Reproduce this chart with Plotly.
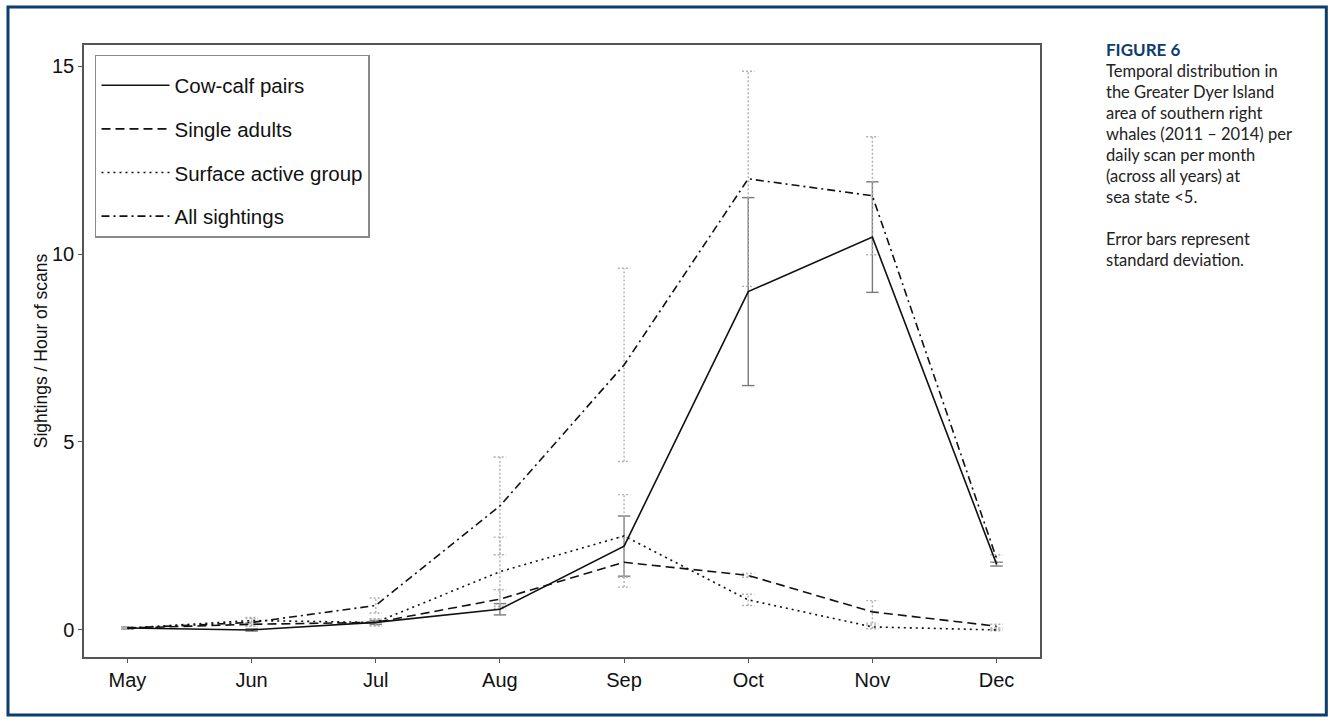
import plotly.graph_objects as go

months = ["May", "Jun", "Jul", "Aug", "Sep", "Oct", "Nov", "Dec"]
cow_calf = [0.05, 0.0, 0.2, 0.55, 2.23, 9.0, 10.45, 1.75]
cow_calf_sd = [0.03, 0.03, 0.05, 0.15, 0.8, 2.5, 1.47, 0.05]
single_adults = [0.05, 0.15, 0.2, 0.82, 1.8, 1.45, 0.48, 0.1]
single_adults_sd = [0.03, 0.05, 0.08, 0.25, 0.66, 0.05, 0.3, 0.05]
surface_active = [0.05, 0.25, 0.2, 1.55, 2.5, 0.8, 0.08, 0.0]
surface_active_sd = [0.03, 0.08, 0.1, 0.92, 1.1, 0.15, 0.05, 0.02]
all_sightings = [0.05, 0.2, 0.65, 3.3, 7.05, 12.0, 11.55, 1.9]
all_sightings_sd = [0.03, 0.1, 0.2, 1.3, 2.57, 2.86, 1.57, 0.1]

series = [
    ("Cow-calf pairs", cow_calf, cow_calf_sd, "solid", "solid", "#7a7a7a"),
    ("Single adults", single_adults, single_adults_sd, "9px,5px", "2px,2px", "#b0b0b0"),
    ("Surface active group", surface_active, surface_active_sd, "2px,4px", "2px,2px", "#b0b0b0"),
    ("All sightings", all_sightings, all_sightings_sd, "8px,4px,2px,4px", "2px,2px", "#b0b0b0"),
]

xs = list(range(len(months)))
cap = 0.05
fig = go.Figure()

# error bars (drawn first, below lines)
for name, vals, sds, dash, edash, ecol in series:
    ex, ey = [], []
    for x, v, s in zip(xs, vals, sds):
        lo, hi = v - s, v + s
        ex += [x, x, None, x - cap, x + cap, None, x - cap, x + cap, None]
        ey += [lo, hi, None, lo, lo, None, hi, hi, None]
    fig.add_trace(go.Scatter(x=ex, y=ey, mode="lines", showlegend=False,
                             hoverinfo="skip",
                             line=dict(color=ecol, width=1.4, dash=edash)))

for i, (name, vals, sds, dash, edash, ecol) in enumerate(series):
    fig.add_trace(go.Scatter(x=xs, y=vals, mode="lines", name=name,
                             legendgroup=f"g{i}",
                             line=dict(color="#111111", width=1.6, dash=dash)))

font_main = "Liberation Sans, Arial, sans-serif"
fig.update_layout(
    width=1333, height=722,
    margin=dict(l=84, r=293, t=45, b=65),
    paper_bgcolor="white", plot_bgcolor="white",
    showlegend=True,
    legend=dict(x=0.0115, y=0.984, xanchor="left", yanchor="top",
                bordercolor="#8a8a8a", borderwidth=1.5, bgcolor="white",
                font=dict(family=font_main, size=20.5, color="#111111"),
                title=dict(text=" ", font=dict(size=7)),
                itemwidth=68,
                tracegroupgap=14, traceorder="grouped"),
    xaxis=dict(range=[-0.35, 7.35], tickmode="array", tickvals=xs, ticktext=months,
               showgrid=False, zeroline=False, showline=True, mirror=True,
               linecolor="#555555", linewidth=1.5, ticks="outside", ticklen=4,
               tickcolor="#555555",
               tickfont=dict(family=font_main, size=20, color="#111111")),
    yaxis=dict(range=[-0.72, 15.56], tickvals=[0, 5, 10, 15],
               showgrid=False, zeroline=False, showline=True, mirror=True,
               linecolor="#555555", linewidth=1.5, ticks="outside", ticklen=4,
               tickcolor="#555555",
               title=dict(text="Sightings / Hour of scans", standoff=0,
                          font=dict(family=font_main, size=17.5, color="#111111")),
               tickfont=dict(family=font_main, size=20, color="#111111")),
)

# outer dark blue frame
fig.add_shape(type="rect", xref="paper", yref="paper",
              x0=-0.0795, x1=1.2995, y0=-0.0948, y1=1.062,
              line=dict(color="#0b3d6e", width=3), fillcolor="rgba(0,0,0,0)")

side_lines = [
    ("<b>FIGURE 6</b>", "#0b3d6e", 17),
    ("Temporal distribution in", "#222222", 16.5),
    ("the Greater Dyer Island", "#222222", 16.5),
    ("area of southern right", "#222222", 16.5),
    ("whales (2011 – 2014) per", "#222222", 16.5),
    ("daily scan per month", "#222222", 16.5),
    ("(across all years) at", "#222222", 16.5),
    ("sea state <5.", "#222222", 16.5),
    ("", "#222222", 16.5),
    ("Error bars represent", "#222222", 16.5),
    ("standard deviation.", "#222222", 16.5),
]
for k, (txt, col, sz) in enumerate(side_lines):
    if not txt:
        continue
    ypx = 50 + k * 21
    fig.add_annotation(xref="paper", yref="paper", x=(1104 - 84) / 956,
                       y=1 - (ypx - 45) / 612, xanchor="left", yanchor="middle",
                       showarrow=False, text=txt,
                       font=dict(family="Lato, Noto Sans, sans-serif", size=sz, color=col))

fig.write_html("out.html", config={"displayModeBar": False},
               post_script="document.body.style.margin='0';")
